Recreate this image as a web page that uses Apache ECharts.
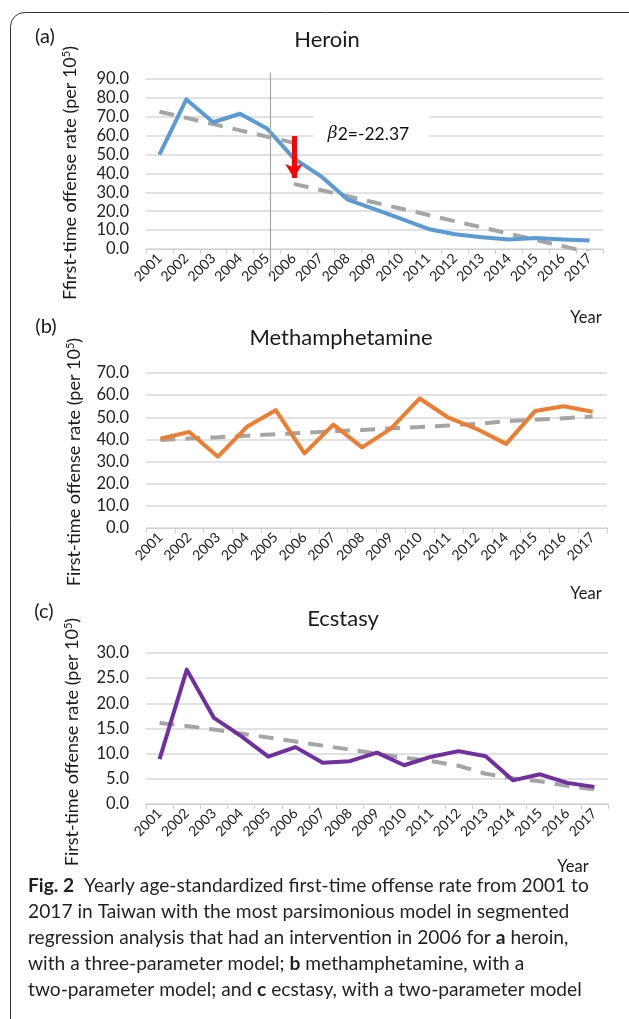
<!DOCTYPE html>
<html>
<head>
<meta charset="utf-8">
<script src="https://cdn.jsdelivr.net/npm/echarts@6/dist/echarts.min.js"></script>
<style>
  html, body { margin: 0; padding: 0; background: #fff; }
  #main { width: 629px; height: 1019px; }
</style>
</head>
<body>
<div id="main"></div>
<script>
// data
const years = ['2001','2002','2003','2004','2005','2006','2007','2008','2009','2010','2011','2012','2013','2014','2015','2016','2017']
// panel b has no 2013 on its axis
const methYears = ['2001','2002','2003','2004','2005','2006','2007','2008','2009','2010','2011','2012','2014','2015','2016','2017']

const heroin = [50.0, 79.2, 67.1, 71.6, 63.8, 48.0, 38.6, 26.2, 21.1, 16.0, 10.6, 7.8, 6.2, 5.0, 5.8, 5.0, 4.5]
const heroinPre = [72.7, 69.4, 66.1, 62.8, 59.5, 56.2, '-', '-', '-', '-', '-', '-', '-', '-', '-', '-', '-']
const heroinPost = ['-', '-', '-', '-', '-', 34.5, 31.2, 27.9, 24.6, 21.3, 18.0, 14.7, 11.4, 8.1, 4.8, 1.5, -1.8]

const meth = [40.3, 43.4, 32.2, 45.7, 53.2, 33.7, 46.7, 36.4, 44.9, 58.5, 49.8, 44.6, 38.0, 52.8, 55.0, 52.5]
const methTrend = [39.7, 40.4, 41.0, 41.7, 42.3, 43.0, 43.7, 44.3, 45.0, 45.6, 46.3, 47.0, 48.3, 48.9, 49.6, 50.3]

const ecstasy = [8.9, 26.7, 17.1, 13.5, 9.4, 11.3, 8.2, 8.5, 10.2, 7.7, 9.4, 10.5, 9.5, 4.7, 5.9, 4.2, 3.4]
const ecstasyTrend = [16.1, 15.5, 14.8, 14.0, 13.2, 12.4, 11.6, 10.8, 10.0, 9.2, 8.5, 7.6, 6.0, 5.1, 4.5, 3.6, 2.9]

const FONT = 'Lato'
const myChart = echarts.init(document.getElementById('main'), null, { renderer: 'canvas' })

function xAxis(i, data) {
    return {
        type: 'category', gridIndex: i, data: data, boundaryGap: true,
        axisLine: { lineStyle: { color: '#d0d0d0', width: 1 } },
        axisTick: { show: true, interval: 0, length: 5, lineStyle: { color: '#d0d0d0' } },
        axisLabel: { interval: 0, rotate: 45, fontSize: 14, color: '#222', margin: 7, fontFamily: FONT },
        splitLine: { show: false }
    }
}
function yAxis(i, max, step) {
    return {
        type: 'value', gridIndex: i, min: 0, max: max, interval: step,
        axisLine: { show: false }, axisTick: { show: false },
        axisLabel: { formatter: v => v.toFixed(1), fontSize: 16.5, color: '#222', margin: 17, fontFamily: FONT },
        splitLine: { lineStyle: { color: '#d9d9d9', width: 1.5 } }
    }
}
const dashed = { color: '#a5a5a5', width: 4, type: [15, 10], cap: 'butt' }
function trend(i, data) {
    return { type: 'line', xAxisIndex: i, yAxisIndex: i, data: data, symbol: 'none', silent: true,
        lineStyle: dashed, z: 2, clip: true }
}
function main(i, data, color) {
    return { type: 'line', xAxisIndex: i, yAxisIndex: i, data: data, symbol: 'none', silent: true,
        lineStyle: { color: color, width: 4, join: 'round' }, z: 3, clip: true }
}

const heroinSeries = main(0, heroin, '#5b9bd5')
heroinSeries.markLine = {
    silent: true, symbol: ['none', 'arrow'], symbolSize: [13, 14],
    label: { show: false },
    lineStyle: { color: '#ff0000', width: 5, type: 'solid' },
    data: [[{ coord: ['2006', 59.8] }, { coord: ['2006', 37.6] }]]
}
heroinSeries.markPoint = {
    silent: true,
    data: [{
        coord: ['2009', 62.5], symbol: 'rect', symbolSize: [116, 36], symbolOffset: [-3, 0],
        itemStyle: { color: '#fff' },
        label: {
            show: true, position: 'inside', offset: [-3, 3], formatter: '{g|β}2=-22.37',
            color: '#111', fontSize: 17.5, fontFamily: FONT,
            rich: { g: { fontStyle: 'italic', fontFamily: 'DejaVu Serif', fontSize: 17, color: '#111' } }
        }
    }]
}

const option = {
    animation: false,
    backgroundColor: '#fff',
    textStyle: { fontFamily: FONT },
    grid: [
        { left: 146, top: 79, width: 457, height: 170 },
        { left: 146, top: 373, width: 461, height: 155 },
        { left: 146, top: 653, width: 462, height: 151 }
    ],
    xAxis: [xAxis(0, years), xAxis(1, methYears), xAxis(2, years)],
    yAxis: [yAxis(0, 90, 10), yAxis(1, 70, 10), yAxis(2, 30, 5)],
    series: [
        trend(0, heroinPre), trend(0, heroinPost), heroinSeries,
        trend(1, methTrend), main(1, meth, '#ed7d31'),
        trend(2, ecstasyTrend), main(2, ecstasy, '#7030a0')
    ]
}
myChart.setOption(option)

// text, frame and the 2005 divider
const t = (x, y, text, size, extra) => Object.assign({
    type: 'text', x: x, y: y, silent: true,
    style: Object.assign({ text: text, fontSize: size, fontFamily: FONT, fill: '#1a1a1a', align: 'center', verticalAlign: 'middle' }, extra || {})
})
const yTitle = (x, y, text) => ({
    type: 'text', x: x, y: y, rotation: Math.PI / 2, silent: true,
    style: { text: text + ' (per 10{s|5})', fontSize: 18, fontFamily: FONT, fill: '#1a1a1a', align: 'center', verticalAlign: 'middle',
        rich: { s: { fontSize: 11, verticalAlign: 'top', fill: '#1a1a1a', fontFamily: FONT } } }
})
const capStyle = { align: 'left', fill: '#231f20', fontSize: 19.2, rich: { b: { fontWeight: 'bold', fontSize: 19.2, fill: '#231f20', fontFamily: FONT } } }
const caption = [
    '{b|Fig. 2}  Yearly age-standardized first-time offense rate from 2001 to',
    '2017 in Taiwan with the most parsimonious model in segmented',
    'regression analysis that had an intervention in 2006 for {b|a} heroin,',
    'with a three-parameter model; {b|b} methamphetamine, with a',
    'two-parameter model; and {b|c} ecstasy, with a two-parameter model'
]

const divTop = myChart.convertToPixel({ xAxisIndex: 0, yAxisIndex: 0 }, ['2005', 93.5])
const divBot = myChart.convertToPixel({ xAxisIndex: 0, yAxisIndex: 0 }, ['2005', -15])

const graphic = [
    { type: 'rect', silent: true, shape: { x: 10.5, y: 12.5, width: 640, height: 1030, r: 14 },
      style: { fill: 'none', stroke: '#333', lineWidth: 1 } },
    { type: 'line', silent: true, z: 10, shape: { x1: divTop[0] + 3.5, y1: divTop[1], x2: divBot[0] + 3.5, y2: divBot[1] },
      style: { stroke: '#a6a6a6', lineWidth: 1.2 } },
    t(45, 37, '(a)', 20), t(46, 327, '(b)', 20), t(44, 612, '(c)', 20),
    t(327, 40, 'Heroin', 22), t(341, 338, 'Methamphetamine', 22), t(343, 619, 'Ecstasy', 22),
    t(586, 318, 'Year', 16.5), t(586, 594, 'Year', 16.5), t(573, 867, 'Year', 16.5),
    yTitle(70, 173, 'Ffirst-time offense rate'),
    yTitle(74, 462, 'First-time offense rate'),
    yTitle(72, 742, 'First-time offense rate')
]
caption.forEach((line, k) => graphic.push(t(28, 886 + k * 26, line, 19.2, capStyle)))

myChart.setOption({ graphic: graphic })
</script>
</body>
</html>
